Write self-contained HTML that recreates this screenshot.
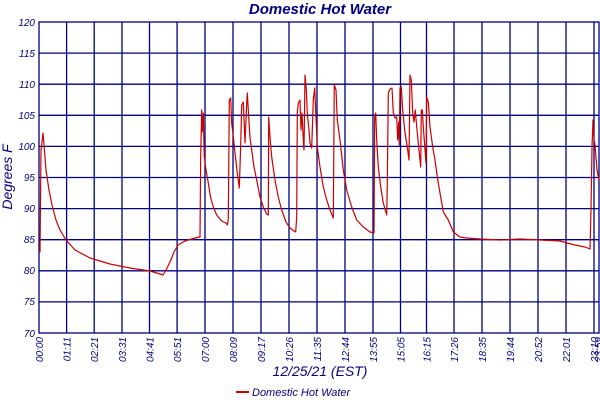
<!DOCTYPE html><html><head><style>body{margin:0;background:#fff}svg{display:block}text{font-family:"Liberation Sans",sans-serif;font-style:italic;fill:#000080}</style></head><body>
<svg width="600" height="400" xmlns="http://www.w3.org/2000/svg">
<text x="320" y="14" font-size="15" font-weight="bold" text-anchor="middle">Domestic Hot Water</text>
<g stroke="#000080" stroke-width="1.3" fill="none">
<rect x="39" y="22" width="560" height="311"/>
<path d="M39 53.1H599M39 84.2H599M39 115.3H599M39 146.4H599M39 177.5H599M39 208.6H599M39 239.7H599M39 270.8H599M39 301.9H599"/>
<path d="M66.6 22V333M94.2 22V333M122 22V333M149.5 22V333M177.1 22V333M205 22V333M233 22V333M261 22V333M289 22V333M317 22V333M345 22V333M373 22V333M400.5 22V333M426.5 22V333M454 22V333M482 22V333M510 22V333M538 22V333M566 22V333M594 22V333"/>
</g>
<g font-size="10" text-anchor="end">
<text x="35" y="26">120</text><text x="35" y="57">115</text><text x="35" y="88">110</text><text x="35" y="119">105</text><text x="35" y="150">100</text><text x="35" y="181">95</text><text x="35" y="212">90</text><text x="35" y="243">85</text><text x="35" y="274">80</text><text x="35" y="305">75</text><text x="35" y="337">70</text>
</g>
<g font-size="10" text-anchor="end">
<text transform="translate(43,337) rotate(-90)">00:00</text>
<text transform="translate(70.5,337) rotate(-90)">01:11</text>
<text transform="translate(98,337) rotate(-90)">02:21</text>
<text transform="translate(126,337) rotate(-90)">03:31</text>
<text transform="translate(153.5,337) rotate(-90)">04:41</text>
<text transform="translate(181,337) rotate(-90)">05:51</text>
<text transform="translate(209,337) rotate(-90)">07:00</text>
<text transform="translate(237,337) rotate(-90)">08:09</text>
<text transform="translate(265,337) rotate(-90)">09:17</text>
<text transform="translate(293,337) rotate(-90)">10:26</text>
<text transform="translate(321,337) rotate(-90)">11:35</text>
<text transform="translate(349,337) rotate(-90)">12:44</text>
<text transform="translate(377,337) rotate(-90)">13:55</text>
<text transform="translate(404.5,337) rotate(-90)">15:05</text>
<text transform="translate(430.5,337) rotate(-90)">16:15</text>
<text transform="translate(458,337) rotate(-90)">17:26</text>
<text transform="translate(486,337) rotate(-90)">18:35</text>
<text transform="translate(514,337) rotate(-90)">19:44</text>
<text transform="translate(542,337) rotate(-90)">20:52</text>
<text transform="translate(570,337) rotate(-90)">22:01</text>
<text transform="translate(598,337) rotate(-90)">23:10</text>
<text transform="translate(602,337) rotate(-90)">23:59</text>
</g>
<text x="320" y="376" font-size="14" text-anchor="middle">12/25/21 (EST)</text>
<text transform="translate(12,177) rotate(-90)" font-size="14" text-anchor="middle">Degrees F</text>
<line x1="236" y1="392" x2="249" y2="392" stroke="#cc0000" stroke-width="2"/>
<text x="252" y="396" font-size="11">Domestic Hot Water</text>
<polyline fill="none" stroke="#cc0000" stroke-width="1.2" stroke-linejoin="round" points="39,250 40,252 41,150 43,133 44,145 46,170 49,190 52,205 56,220 60,230 66,240 75,250 90,258 110,264 130,268 150,271 160,274 163,275 166,270 170,262 174,252 178,245 185,241 195,238 200,237 200.7,155 201.7,110 202.3,132 203.3,113 204.3,157 206,170 208.3,183 210.7,198 213.3,207 216.7,215 221.7,221 226,223 227.3,225 228.3,220 229.3,100 230.7,98 231.7,123 233.3,137 235,153 237.3,173 239.3,188 240.7,145 241.7,105 243.3,102 245,143 246.7,103 247.3,93 248.3,110 250,138 251.7,150 254,167 256.7,180 260,197 263.3,207 266.7,214 268.3,215 268.7,117 270,137 271.7,157 275,180 278.3,197 281.7,210 286,222 290,228 294,231 295.7,232 296.7,217 297.3,113 298.3,103 300,100 301,130 302,113 303.3,140 304,150 305,75 306.3,90 307.3,113 308.7,127 310,143 311.7,148 313.3,100 314.7,88 316,117 317.3,147 320,167 323.3,187 326.7,200 330,210 333.3,218 334.3,85 336,90 337.3,120 340,140 343.3,170 346.7,190 351.7,207 356.7,220 363.3,227 370,232 374,233 374.7,117 375.7,113 376.7,140 378.3,167 380.7,187 383.3,203 386.7,215 387.3,183 388.3,93 390,89 392,88 393.3,113 395,118 396.7,117 397.7,140 398.7,122 399.3,145 400,88 401.3,87 402.7,110 405,133 407.3,147 409,160 410,75 411.3,80 412.7,113 414,122 415.3,110 416.7,127 418.7,147 420.7,167 421.3,110 422.3,110 423.3,127 425,150 426,163 426.7,97 428.3,102 430,127 432.7,147 435,160 437.3,177 440,193 443.3,212 448.3,220 453.3,232 460,237 466.7,238 480,239 500,240 520,239 540,240 560,241 567,243 575,245 585,247 590,249 591,210 592,147 593,120 594,140 595,145 597,170 599,180"/>
</svg></body></html>
